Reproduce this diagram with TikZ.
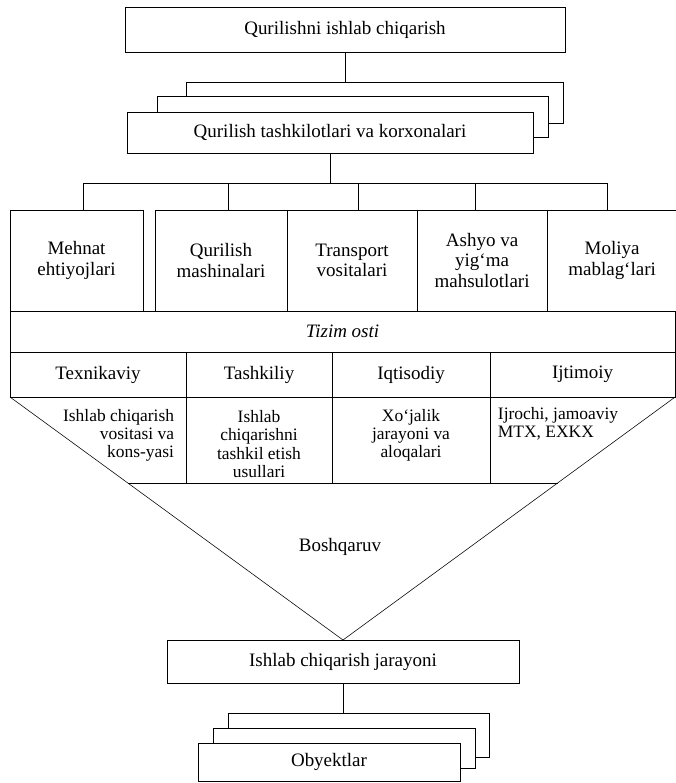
\documentclass[tikz,border=0pt]{standalone}
\usepackage{fontspec}
\setmainfont{Liberation Serif}
\usetikzlibrary{positioning,calc}
\tikzset{x=0.025cm,y=-0.025cm,line width=0.8pt,
  box/.style={draw,fill=white,outer sep=0pt,inner sep=2pt,align=center,font=\fontsize{13.5}{14.3}\selectfont},
  cell/.style={box,minimum height=1.125cm},
  item/.style={box,minimum width=3.25cm,minimum height=2.525cm},
  txt/.style={align=center,font=\fontsize{12.4}{12.9}\selectfont}}

\begin{document}
\begin{tikzpicture}
    \useasboundingbox (0,0) rectangle (676,783);
    \node[box,minimum width=11cm,minimum height=1.125cm] (prod) at (345,29.5) {Qurilishni ishlab chiqarish};
    \node[box,minimum width=9.425cm,minimum height=1.025cm] (org3) at (374.5,102.5) {};
    \node[box,minimum width=9.775cm,minimum height=1.025cm] (org2) at (352.5,116.5) {};
    \node[box,minimum width=10.15cm,minimum height=1.025cm] (org) at (330,132.5) {Qurilish tashkilotlari va korxonalari};
    \coordinate (busL) at (83,183);
    \coordinate (busR) at (607,183);
    \node[item,minimum width=3.325cm] (mehnat) at (76.5,260.5) {Mehnat\\ehtiyojlari};
    \node[item,minimum width=3.3cm] (mash) at (221,260.5) {Qurilish\\mashinalari};
    \node[item,right=0pt of mash] (trans) {Transport\\vositalari};
    \node[item,right=0pt of trans] (ashyo) {Ashyo va\\yig‘ma\\mahsulotlari};
    \node[item,right=0pt of ashyo] (moliya) {Moliya\\mablag‘lari};
    \node[box,minimum width=16.625cm,minimum height=1.025cm,font=\fontsize{13.5}{14.3}\selectfont\itshape] (tizim) at (342.5,331.5) {Tizim osti};
    \node[cell,minimum width=4.4cm] (tex) at (98,374.5) {Texnikaviy};
    \node[cell,minimum width=3.65cm,right=0pt of tex] (tash) {Tashkiliy};
    \node[cell,minimum width=3.95cm,right=0pt of tash] (iqt) {Iqtisodiy};
    \node[cell,minimum width=4.625cm,right=0pt of iqt] (ijt) {Ijtimoiy};
    \node[box,minimum width=8.8cm,minimum height=1.075cm] (jar) at (343,661.5) {Ishlab chiqarish jarayoni};
    \coordinate (botL) at ($(tex.south west)!0.354!(jar.north)$);
    \coordinate (botR) at ($(ijt.south east)!0.354!(jar.north)$);
    \node[txt,align=right,anchor=east] (texd) at (179,435) {Ishlab chiqarish\\vositasi va\\kons-yasi};
    \node[txt] (tashd) at (259,444) {Ishlab\\chiqarishni\\tashkil etish\\usullari};
    \node[txt] (iqtd) at (411,435) {Xo‘jalik\\jarayoni va\\aloqalari};
    \node[txt,align=left,anchor=west] (ijtd) at (493,424) {Ijrochi, jamoaviy\\MTX, EXKX};
    \node[txt,font=\fontsize{13.5}{14.3}\selectfont] (boshq) at (340,547) {Boshqaruv};
    \node[box,minimum width=6.525cm,minimum height=1.1cm] (obj3) at (358.5,735) {};
    \node[box,minimum width=6.55cm,minimum height=1cm] (obj2) at (344,748) {};
    \node[box,minimum width=6.55cm,minimum height=0.95cm] (obj) at (329,762) {Obyektlar};
    \draw (prod.south) -- (prod.south |- org3.north);
    \draw (org.south) -- (org.south |- busL);
    \draw (busL) -- (busR);
    \foreach \n/\x in {mehnat/83,mash/228,trans/358,ashyo/475,moliya/607}
        \draw (\x,183) -- (\x,183 |- \n.north);
    \draw (tex.south west) -- (jar.north) -- (ijt.south east);
    \draw (botL) -- (botR);
    \foreach \n in {tex,tash,iqt}
        \draw (\n.south east) -- (\n.south east |- botL);
    \draw (jar.south) -- (jar.south |- obj3.north);
\end{tikzpicture}
\end{document}
